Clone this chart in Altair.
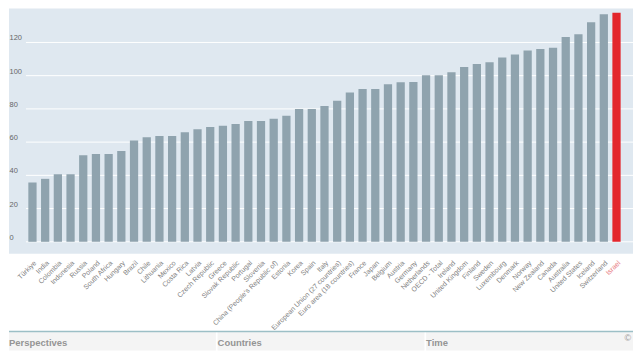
import altair as alt
import pandas as pd

countries = [
    "Türkiye", "India", "Colombia", "Indonesia", "Russia", "Poland", "South Africa",
    "Hungary", "Brazil", "Chile", "Lithuania", "Mexico", "Costa Rica", "Latvia",
    "Czech Republic", "Greece", "Slovak Republic", "Portugal", "Slovenia",
    "China (People's Republic of)", "Estonia", "Korea", "Spain", "Italy",
    "European Union (27 countries)", "Euro area (18 countries)", "France", "Japan",
    "Belgium", "Austria", "Germany", "Netherlands", "OECD - Total", "Ireland",
    "United Kingdom", "Finland", "Sweden", "Luxembourg", "Denmark", "Norway",
    "New Zealand", "Canada", "Australia", "United States", "Iceland", "Switzerland",
    "Israel",
]
values = [
    35.7, 37.9, 40.7, 40.7, 52.1, 52.9, 52.9,
    54.7, 60.9, 62.9, 63.7, 63.7, 65.9, 67.8,
    69.1, 69.9, 70.9, 72.7, 72.7,
    74.1, 75.9, 79.9, 79.9, 81.7,
    84.9, 89.9, 92.0, 92.0,
    94.8, 96.0, 96.2, 100.2, 100.2, 102.0,
    105.2, 107.0, 108.0, 111.0, 112.8, 115.2,
    116.0, 116.8, 123.2, 125.0, 132.2, 136.9,
    137.9,
]
y_ticks = [0, 20, 40, 60, 80, 100, 120]
sections = ["Perspectives", "Countries", "Time"]
highlight = "Israel"

BLUE = "#dfe8f0"
GRAY = "#8fa3ae"
RED = "#e3262c"
TEAL = "#9cbfc6"
FOOT = "#f4f4f4"
FONT = "Liberation Sans"

W = 626
TOP_H = 246
FOOT_H = 19

df = pd.DataFrame({"country": countries, "value": values})
grid_df = pd.DataFrame({"tick": y_ticks})
sec_df = pd.DataFrame({"section": sections})

y_scale = alt.Scale(domain=[-7.2, 140.4], nice=False, zero=False)
y_axis = alt.Axis(
    title=None,
    values=y_ticks,
    domain=False,
    ticks=False,
    tickSize=0,
    grid=False,
    labelAlign="left",
    labelBaseline="alphabetic",
    labelPadding=0,
    labelOffset=-2.5,
    labelFont=FONT,
    labelFontSize=7.5,
    labelColor="#666666",
    labelBound=False,
    labelFlush=False,
    labelOverlap=False,
)

grid = alt.Chart(grid_df).mark_rule(color="white", strokeWidth=1).encode(
    y=alt.Y("tick:Q", scale=y_scale, axis=y_axis),
    x=alt.value(17),
    x2=alt.value(W),
)

bars = alt.Chart(df).mark_bar().encode(
    x=alt.X(
        "country:N",
        sort=None,
        scale=alt.Scale(paddingInner=0.35, paddingOuter=0, range=[19.4, 613.6]),
        axis=alt.Axis(
            title=None,
            labelAngle=315,
            labelAlign="right",
            labelBaseline="top",
            labelPadding=5,
            domain=False,
            ticks=False,
            labelFont=FONT,
            labelFontSize=7,
            labelOverlap=False,
            labelColor={
                "condition": {"test": f"datum.value == '{highlight}'", "value": "#e8797d"},
                "value": "#808080",
            },
        ),
    ),
    y=alt.Y("value:Q", scale=y_scale, axis=y_axis),
    y2=alt.datum(0),
    color=alt.condition(alt.datum.country == highlight, alt.value(RED), alt.value(GRAY)),
)

top = alt.layer(grid, bars).properties(
    width=W, height=TOP_H, view=alt.ViewBackground(fill=BLUE, stroke=None)
)

fx_scale = alt.Scale(paddingInner=0.008, paddingOuter=0)

foot_bg = alt.Chart(sec_df).mark_rect(color=FOOT).encode(
    x=alt.X("section:N", sort=None, scale=fx_scale, axis=None),
)
foot_line = alt.Chart(sec_df).transform_aggregate(n="count()").mark_rule(
    color=TEAL, strokeWidth=1.5
).encode(x=alt.value(0), x2=alt.value(W), y=alt.value(0))
foot_text = alt.Chart(sec_df).mark_text(
    align="left", baseline="middle", dx=0, dy=2, fontSize=9.5, font=FONT,
    fontWeight="bold", color="#959595"
).encode(
    x=alt.X("section:N", sort=None, bandPosition=0, scale=fx_scale, axis=None),
    text="section:N",
)
copy_mark = alt.Chart(sec_df).transform_filter(alt.datum.section == "Time").mark_text(
    text="©", align="right", baseline="top", dx=-2, fontSize=9, font=FONT, color="#999999"
).encode(
    x=alt.X("section:N", sort=None, bandPosition=1, scale=fx_scale, axis=None),
    y=alt.value(3),
)

footer = alt.layer(foot_bg, foot_line, foot_text, copy_mark).properties(
    width=W, height=FOOT_H, view=alt.ViewBackground(fill="white", stroke=None)
)

chart = alt.vconcat(top, footer, spacing=78, bounds="flush").properties(
    padding=0, background="white"
)

chart.save("out.html", embed_options={"renderer": "svg", "actions": False})
